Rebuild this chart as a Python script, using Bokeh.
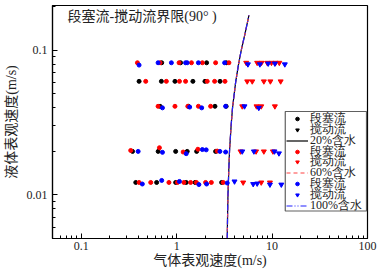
import math
from bokeh.plotting import figure
from bokeh.models import FixedTicker, Legend, LegendItem, Label
from bokeh.embed import file_html
from bokeh.resources import INLINE

FONT = "Liberation Serif, Noto Sans CJK SC"
LFONT = "Liberation Serif"

# ---- data ----
y1, y2, y3, y4, y5 = 0.082, 0.061, 0.041, 0.020, 0.0122

# 20% water (black)
k_slug_x = [0.697, 1.10, 2.06, 3.31,
            0.404, 0.692, 0.96, 1.48, 1.98, 2.85,
            0.67, 1.33, 2.52, 3.30,
            0.345, 0.64, 0.976, 1.29, 1.62, 2.56,
            0.373, 0.617, 0.976, 1.26, 1.56, 2.96]
k_slug_y = [y1]*4 + [y2]*6 + [y3]*4 + [y4]*6 + [y5]*6
k_churn_x = [float("nan")]
k_churn_y = [float("nan")]

# 60% water (red)
r_slug_x = [0.388, 0.670, 1.06, 1.43, 1.86, 2.56, 3.53,
            0.474, 0.78, 1.07, 1.24, 2.09, 2.50, 3.21,
            0.639, 0.96, 1.31, 1.69, 2.27,
            0.33, 0.66, 1.17, 1.67, 2.66,
            0.404, 0.535, 0.83, 1.02, 1.19, 1.40, 1.61, 2.01, 2.31, 3.08]
r_slug_y = ([y1]*7 + [y2]*7 + [y3]*5 + [0.0203, 0.0212, 0.0198, 0.0207, 0.0201]
            + [y5]*10)
r_churn_x = [5.36, 6.98, 7.75, 8.89, 9.86, 10.9, 11.9,
             5.49, 6.2, 8.2, 9.6, 12.3,
             4.87, 6.87, 7.7, 10.7,
             4.67, 6.8, 8.2, 10.2,
             4.98, 7.7, 9.5]
r_churn_y = [y1]*7 + [y2]*5 + [y3]*4 + [y4]*4 + [y5]*3

# 100% water (blue)
b_slug_x = [0.404, 0.639, 0.881, 1.24, 1.29, 1.69, 3.18,
            0.71, 1.37, 1.83, 3.26,
            0.395, 0.71, 1.26, 1.86, 2.04, 2.84, 3.26,
            0.437, 0.697, 1.07, 1.71, 2.06, 3.39]
b_slug_y = ([0.079, y1, y1, y1, y1, y1, y1]
            + [0.040, 0.0405, 0.040, 0.041]
            + [y4, 0.0197, 0.0193, 0.0206, 0.0205, 0.0200, 0.0198]
            + [0.0119, 0.0126, 0.0124, 0.0118, 0.0119, 0.0121])
b_churn_x = [5.58, 7.45, 9.10, 10.7, 13.6,
             5.14, 7.26,
             4.87, 6.45, 10.6, 11.8,
             4.04, 6.34, 6.98, 9.5, 12.5]
b_churn_y = ([0.080, 0.080, 0.081, 0.081, 0.080]
             + [0.041, 0.040]
             + [y4, y4, y4, 0.0194]
             + [0.0124, 0.0119, 0.0120, 0.0118, 0.0118])

# slug/churn boundary (same curve for the three water cuts)
bnd_y = [0.005, 0.0075, 0.01, 0.015, 0.02, 0.03, 0.04, 0.06, 0.08, 0.1, 0.13, 0.174]
bnd_x = [3.39, 3.42, 3.45, 3.52, 3.58, 3.72, 3.85, 4.15, 4.45, 4.75, 5.2, 5.72]

legend_labels = ["段塞流", "搅动流", "20%含水",
                 "段塞流", "搅动流", "60%含水",
                 "段塞流", "搅动流", "100%含水"]

x_major = [0.1, 1, 10, 100]
x_minor = [m * 10**e for e in (-2, -1, 0, 1) for m in range(2, 10)]
y_major = [0.01, 0.1]
y_minor = [m * 10**e for e in (-3, -2, -1) for m in range(2, 10)]

W, H = 378, 277
BL, BR, BT, BB = 51, 11, 5, 39
X0, X1 = 0.05, 100
Y0, Y1 = 0.005, 0.204
p = figure(width=W, height=H, x_axis_type="log", y_axis_type="log",
           x_range=(X0, X1), y_range=(Y0, Y1),
           output_backend="svg", toolbar_location=None,
           min_border_left=BL, min_border_right=BR, min_border_top=BT,
           min_border_bottom=BB)
p.grid.visible = False
p.outline_line_color = "black"
p.outline_line_width = 1.2
p.background_fill_color = "white"
p.border_fill_color = "white"

for ax in (p.xaxis[0], p.yaxis[0]):
    ax.major_tick_in = 5
    ax.major_tick_out = 0
    ax.minor_tick_in = 3
    ax.minor_tick_out = 0
    ax.axis_line_color = "black"
    ax.axis_line_width = 1.2
    ax.major_label_text_font = LFONT
    ax.major_label_text_font_size = "12px"
    ax.major_label_text_color = "#222222"
    ax.axis_label_text_font = FONT
    ax.axis_label_text_font_size = "14px"
    ax.axis_label_text_font_style = "normal"
    ax.axis_label_text_color = "#222222"
p.xaxis.major_label_standoff = 3
p.xaxis.axis_label_standoff = 0
p.yaxis.major_label_standoff = 5
p.yaxis.axis_label_standoff = 5
p.xaxis.ticker = FixedTicker(ticks=x_major, minor_ticks=x_minor)
p.yaxis.ticker = FixedTicker(ticks=y_major, minor_ticks=y_minor)
p.xaxis.major_label_overrides = {0.1: "0.1", 1: "1", 10: "10", 100: "100"}
p.yaxis.major_label_overrides = {0.01: "0.01", 0.1: "0.1"}
p.xaxis.axis_label = "气体表观速度(m/s)"
p.yaxis.axis_label = "液体表观速度(m/s)"

# --- legend frame: pixel box converted through the log scales ---
frame_w = W - BL - BR
frame_h = H - BT - BB


def px_to_x(px):
    return 10 ** (math.log10(X0) + (px - BL) / frame_w * math.log10(X1 / X0))


def py_to_y(py):
    return 10 ** (math.log10(Y1) - (py - BT) / frame_h * math.log10(Y1 / Y0))


l_k = p.line(bnd_x, bnd_y, line_color="black", line_width=1.2)
l_r = p.line(bnd_x, bnd_y, line_color="#FF4040", line_width=1.2, line_dash="4 3")
l_b = p.line(bnd_x, bnd_y, line_color="#2020FF", line_width=1.2, line_dash="6 2 1 2 1 2")

ks = p.scatter(k_slug_x, k_slug_y, marker="circle", size=4, color="black")
rs = p.scatter(r_slug_x, r_slug_y, marker="circle", size=4, color="#FF0000")
bs = p.scatter(b_slug_x, b_slug_y, marker="circle", size=4, color="#0000FF")
rc = p.scatter(r_churn_x, r_churn_y, marker="inverted_triangle", size=5, color="#FF0000")
bc = p.scatter(b_churn_x, b_churn_y, marker="inverted_triangle", size=5, color="#0000FF")
kc = p.scatter(k_churn_x, k_churn_y, marker="inverted_triangle", size=5, color="black")

# one single-row legend per entry, stacked tightly like the original
renderers = [ks, kc, l_k, rs, rc, l_r, bs, bc, l_b]
row0, row_step, row_h = 118.3 - BT, 10.9, 17
for i, (lab, r) in enumerate(zip(legend_labels, renderers)):
    yc = frame_h - (row0 + i * row_step)
    lg = Legend(items=[LegendItem(label=lab, renderers=[r])],
                location=(234, yc - row_h / 2))
    lg.label_text_font = LFONT
    lg.label_text_font_size = "12px"
    lg.label_text_color = "#222222"
    lg.label_height = 9
    lg.glyph_height = 9
    lg.glyph_width = 22
    lg.label_standoff = 2
    lg.spacing = 0
    lg.padding = 0
    lg.margin = 0
    lg.border_line_alpha = 0
    lg.background_fill_alpha = 0
    p.add_layout(lg)

# legend border drawn on top of everything (no fill)
p.quad(left=[px_to_x(284.5)], right=[px_to_x(BL + frame_w - 1)],
       bottom=[py_to_y(210.5)], top=[py_to_y(111)],
       fill_alpha=0, line_color="#606060", line_width=1.2, level="overlay")

title = Label(x=0.072, y=0.17, text="段塞流-搅动流界限(90° )",
              text_font=FONT, text_font_size="14px", text_baseline="middle",
              text_color="#222222")
p.add_layout(title)

open("out.html", "w").write(file_html(p, INLINE))
